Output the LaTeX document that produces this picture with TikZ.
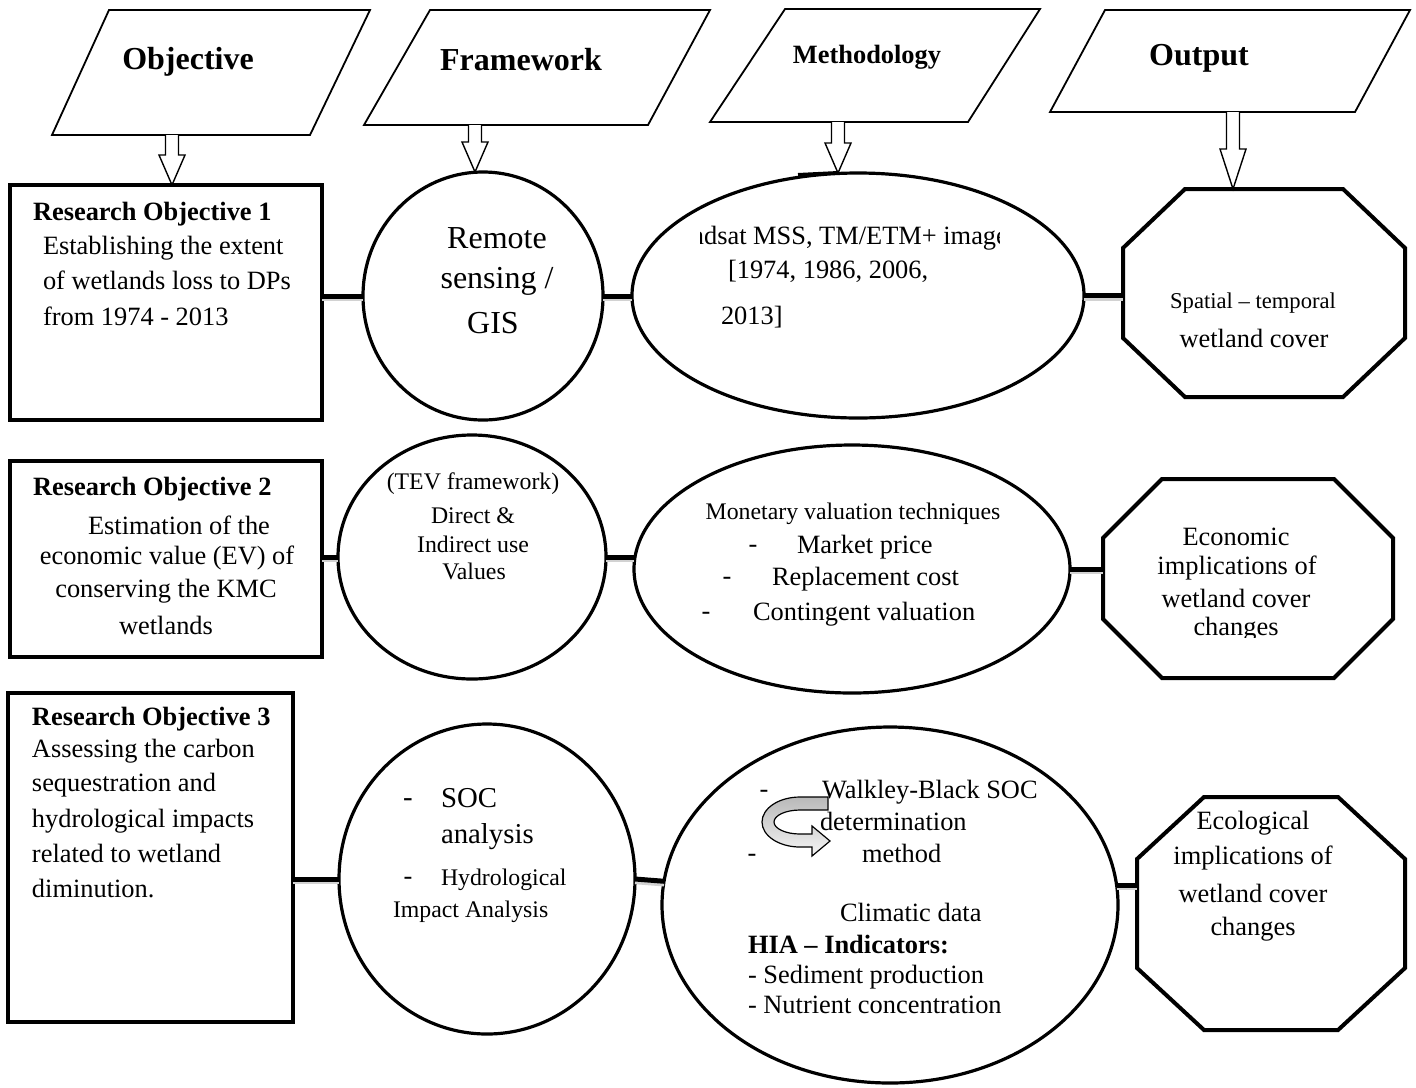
\documentclass[tikz,border=0pt]{standalone}
\usepackage{fontspec}
\setmainfont{Liberation Serif}
\usetikzlibrary{shapes.geometric,calc}
\newcommand\ftnorm{\fontsize{13.2pt}{15pt}\selectfont}
\newcommand\ftsm{\fontsize{11.9pt}{14pt}\selectfont}
\newcommand\ftspat{\fontsize{11.3pt}{13pt}\selectfont}
\newcommand\ftbig{\fontsize{16pt}{19pt}\selectfont}
\newcommand\ftsoc{\fontsize{14.4pt}{17pt}\selectfont}
\newcommand\fthead{\fontsize{16pt}{19pt}\selectfont\bfseries}
\newcommand\harrow[3]{\draw[hollow] let \p1=(#1), \p2=(#2) in
  (\x1-3.25pt,\y1) -- (\x1-3.25pt,\y2+#3) -- (\x1-6.5pt,\y2+#3) -- (\x1,\y2)
  -- (\x1+6.5pt,\y2+#3) -- (\x1+3.25pt,\y2+#3) -- (\x1+3.25pt,\y1);}
\newcommand\octdraw[3]{\draw[octline] ($(#1.north west)+(#2,0)$) -- ($(#1.north east)+(-#2,0)$)
  -- ($(#1.north east)+(0,#3)$) -- ($(#1.south east)+(0,-#3)$) -- ($(#1.south east)+(-#2,0)$)
  -- ($(#1.south west)+(#2,0)$) -- ($(#1.south west)+(0,-#3)$) -- ($(#1.north west)+(0,#3)$) -- cycle;}
\begin{document}
\begin{tikzpicture}[x=0.5pt,y=-0.5pt,
  box/.style={draw, line width=2pt, rectangle, inner sep=0, outer sep=0},
  oval/.style={draw, ellipse, line width=1.6pt, inner sep=0, outer sep=0},
  octbox/.style={rectangle, draw=none, inner sep=0, outer sep=0},
  octline/.style={draw, line width=2pt, line join=miter},
  para/.style={draw, line width=0.9pt},
  hollow/.style={draw, line width=0.7pt, fill=white},
  conn/.style={line width=2.5pt, preaction={draw=gray!35, line width=1.6pt, transform canvas={yshift=-1.8pt}}},
  txt/.style={inner sep=0, outer sep=0, font=\ftnorm},
  hdr/.style={inner sep=0, outer sep=0, font=\fthead},
  curl/.style={draw, line width=0.6pt, top color=gray!55, bottom color=gray!8},
]
\useasboundingbox (0,0) rectangle (1416,1087);
\fill[white] (0,0) rectangle (1416,1087);

% header parallelograms
\draw[para] (109,10) -- (370,10) -- (310,135) -- (52,135) -- cycle;
\coordinate (p1b) at (172,135);
\draw[para] (430,10) -- (710,10) -- (648,125) -- (364,125) -- cycle;
\coordinate (p2b) at (475,125);
\draw[para] (785,9) -- (1040,9) -- (968,122) -- (710,122) -- cycle;
\coordinate (p3b) at (838,122);
\draw[para] (1105,10) -- (1410,10) -- (1355,112) -- (1050,112) -- cycle;
\coordinate (p4b) at (1233,112);
\node[hdr] (h1) at (188,62) {Objective};
\node[hdr] (h2) at (521,60) {Framework};
\node[hdr, font=\ftnorm\bfseries] (h3) at (867,57) {Methodology};
\node[hdr] (h4) at (1199,58) {Output};

% row 1
\node[box, minimum width=156pt, minimum height=117.5pt] (b1) at (166,302.5) {};
\node[oval, minimum width=120pt, minimum height=124pt] (c1) at (483,296) {};
\node[oval, minimum width=226pt, minimum height=122.5pt] (e1) at (858,295.5) {};
\node[octbox, minimum width=141pt, minimum height=104pt] (o1) at (1264,293) {};
\octdraw{o1}{62}{59}
\draw[line width=1.5pt] (798,174.5) -- (838,172.5);

% row 2
\node[box, minimum width=156pt, minimum height=98pt] (b2) at (166,559) {};
\node[oval, minimum width=134pt, minimum height=122pt] (c2) at (472,557) {};
\node[oval, minimum width=218pt, minimum height=124pt] (e2) at (852,569) {};
\node[octbox, minimum width=145pt, minimum height=99.5pt] (o2) at (1248,578.5) {};
\octdraw{o2}{59}{59}

% row 3
\node[box, minimum width=142.5pt, minimum height=164.5pt] (b3) at (150.5,857.5) {};
\node[oval, minimum width=148pt, minimum height=155pt] (c3) at (487,879) {};
\node[oval, minimum width=228pt, minimum height=178pt] (e3) at (890,905) {};
\node[octbox, minimum width=134pt, minimum height=116.5pt] (o3) at (1271,913.5) {};
\octdraw{o3}{67}{62}

% hollow arrows
\harrow{p1b}{b1.north}{15pt}
\harrow{p2b}{c1.north}{15pt}
\harrow{p3b}{e1.north}{15pt}
\harrow{p4b}{o1.north}{20pt}

% connectors
\draw[conn] (b1.east |- c1.west) -- (c1.west);
\draw[conn] (c1.east) -- (c1.east -| e1.west);
\draw[conn] (e1.east) -- (e1.east -| o1.west);
\draw[conn] (b2.east |- c2.west) -- (c2.west);
\draw[conn] (c2.east) -- (c2.east -| e2.west);
\draw[conn] (e2.east) -- (e2.east -| o2.west);
\draw[conn] (b3.east |- c3.west) -- (c3.west);
\draw[conn] (c3.east) -- (e3.174);
\draw[conn] (e3.5) -- (e3.5 -| o3.west);

% row 1 texts
\node[txt, anchor=mid west, font=\ftnorm\bfseries] (r1h) at (33,216) {Research Objective 1};
\node[txt, anchor=mid west] (r1a) at (43,250) {Establishing the extent};
\node[txt, anchor=mid west] (r1b) at (43,285) {of wetlands loss to DPs};
\node[txt, anchor=mid west] (r1c) at (43,321) {from 1974 - 2013};
\node[txt, font=\ftbig] (c1a) at (497,238) {Remote};
\node[txt, font=\ftbig] (c1b) at (497,281) {sensing /};
\node[txt, font=\ftbig] (c1c) at (493,323) {GIS};
\begin{scope}
\clip (700,200) rectangle (999,262);
\node[txt, anchor=mid west] (e1a) at (663,240) {Landsat MSS, TM/ETM+ images};
\end{scope}
\node[txt, anchor=mid west] (e1b) at (728,274) {[1974, 1986, 2006,};
\node[txt, anchor=mid west] (e1c) at (721,320) {2013]};
\node[txt, font=\ftspat] (o1a) at (1253,303) {Spatial – temporal};
\node[txt] (o1b) at (1254,338) {wetland cover};

% row 2 texts
\node[txt, anchor=mid west, font=\ftnorm\bfseries] (r2h) at (33,491) {Research Objective 2};
\node[txt] (r2a) at (179,525) {Estimation of the};
\node[txt] (r2b) at (167,558) {economic value (EV) of};
\node[txt] (r2c) at (166,591) {conserving the KMC};
\node[txt] (r2d) at (166,625) {wetlands};
\node[txt, font=\ftsm] (c2a) at (473,484) {(TEV framework)};
\node[txt, font=\ftsm] (c2b) at (473,516) {Direct \&};
\node[txt, font=\ftsm] (c2c) at (473,544) {Indirect use};
\node[txt, font=\ftsm] (c2d) at (474,571) {Values};
\node[txt, font=\ftsm] (e2a) at (853,514) {Monetary valuation techniques};
\node[txt] (e2d1) at (753,549) {-};
\node[txt, anchor=mid west] (e2b) at (797,549) {Market price};
\node[txt] (e2d2) at (727,581) {-};
\node[txt, anchor=mid west] (e2c) at (772,581) {Replacement cost};
\node[txt] (e2d3) at (706,616) {-};
\node[txt, anchor=mid west] (e2e) at (753,616) {Contingent valuation};
\node[txt] (o2a) at (1236,537) {Economic};
\node[txt] (o2b) at (1237,568) {implications of};
\node[txt] (o2c) at (1236,598) {wetland cover};
\begin{scope}
\clip (1100,605) rectangle (1400,637);
\node[txt] (o2d) at (1236,629) {changes};
\end{scope}

% row 3 texts
\node[txt, anchor=mid west, font=\ftnorm\bfseries] (r3h) at (32,721) {Research Objective 3};
\node[txt, anchor=mid west] (r3a) at (32,753) {Assessing the carbon};
\node[txt, anchor=mid west] (r3b) at (32,787) {sequestration and};
\node[txt, anchor=mid west] (r3c) at (32,823) {hydrological impacts};
\node[txt, anchor=mid west] (r3d) at (32,858) {related to wetland};
\node[txt, anchor=mid west] (r3e) at (32,893) {diminution.};
\node[txt, font=\ftsoc] (c3d1) at (408,803) {-};
\node[txt, anchor=mid west, font=\ftsoc] (c3a) at (441,803) {SOC};
\node[txt, anchor=mid west, font=\ftsoc] (c3b) at (441,839) {analysis};
\node[txt] (c3d2) at (408,881) {-};
\node[txt, anchor=mid west, font=\ftsm] (c3c) at (441,881) {Hydrological};
\node[txt, anchor=mid west, font=\ftsm] (c3e) at (393,913) {Impact Analysis};

\draw[curl] (828,797) -- (800,797) arc[start angle=90, end angle=270, x radius=19pt, y radius=12.5pt]
  -- (812,847) -- (812,856) -- (830,841) -- (812,826) -- (812,834) -- (800,834)
  arc[start angle=270, end angle=90, x radius=13pt, y radius=6pt] -- (828,810) -- cycle;

\node[txt] (e3d1) at (764,794) {-};
\node[txt, anchor=mid west] (e3a) at (822,794) {Walkley-Black SOC};
\node[txt, anchor=mid west] (e3b) at (820,826) {determination};
\node[txt] (e3d2) at (752,858) {-};
\node[txt, anchor=mid west] (e3c) at (862,858) {method};
\node[txt, anchor=mid west] (e3e) at (840,917) {Climatic data};
\node[txt, anchor=mid west, font=\ftnorm\bfseries] (e3f) at (748,949) {HIA – Indicators:};
\node[txt, anchor=mid west] (e3g) at (748,979) {- Sediment production};
\node[txt, anchor=mid west] (e3h) at (748,1009) {- Nutrient concentration};
\node[txt] (o3a) at (1253,823) {Ecological};
\node[txt] (o3b) at (1253,858) {implications of};
\node[txt] (o3c) at (1253,893) {wetland cover};
\node[txt] (o3d) at (1253,929) {changes};
\end{tikzpicture}
\end{document}
